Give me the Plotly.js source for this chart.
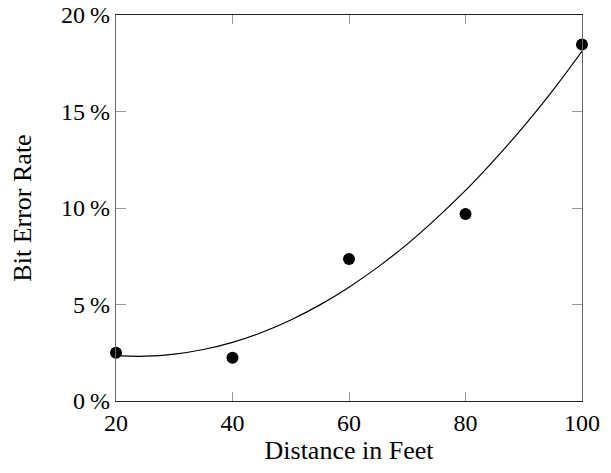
<!DOCTYPE html>
<html>
<head>
<meta charset="utf-8">
<script src="https://cdn.plot.ly/plotly-3.0.1.min.js"></script>
<style>html,body{margin:0;padding:0;background:#fff;}#chart{width:611px;height:473px;}</style>
</head>
<body>
<div id="chart"></div>
<script>
// Measured data points
var distances = [20, 40, 60, 80, 100];
var errorRates = [2.5, 2.24, 7.36, 9.69, 18.47];

// Fit curve
var curveX = [20, 25, 30, 35, 40, 45, 50, 55, 60, 65, 70, 75, 80, 85, 90, 95, 100];
var curveY = [2.35, 2.32, 2.43, 2.67, 3.04, 3.55, 4.20, 4.98, 5.90, 6.95, 8.13, 9.46, 10.91, 12.51, 14.23, 16.10, 18.12];

var xTicks = [20, 40, 60, 80, 100];
var yTicks = [0, 5, 10, 15, 20];
var yTickLabels = ['0\u2009%', '5\u2009%', '10\u2009%', '15\u2009%', '20\u2009%'];

var fontFam = '"Liberation Serif", "Times New Roman", serif';

var traces = [
  {
    x: curveX, y: curveY, type: 'scatter', mode: 'lines',
    line: {color: '#000', width: 1.2, shape: 'spline'},
    hoverinfo: 'skip', cliponaxis: false
  },
  {
    x: distances, y: errorRates, type: 'scatter', mode: 'markers',
    marker: {color: '#000', size: 12},
    cliponaxis: false
  }
];

var layout = {
  width: 611, height: 473,
  margin: {l: 116, r: 29, t: 15, b: 72},
  paper_bgcolor: '#fff', plot_bgcolor: '#fff',
  showlegend: false,
  font: {family: fontFam, size: 22, color: '#000'},
  xaxis: {
    range: [20, 100],
    tickvals: xTicks,
    ticktext: xTicks.map(String),
    ticks: 'inside', ticklen: 9, tickcolor: '#999', tickwidth: 1,
    showline: true, linecolor: '#222', linewidth: 1.3, mirror: 'ticks',
    showgrid: false, zeroline: false,
    tickfont: {family: fontFam, size: 24, color: '#000'},
    title: {text: 'Distance in Feet', font: {family: fontFam, size: 26, color: '#000'}, standoff: 2}
  },
  yaxis: {
    range: [0, 20],
    tickvals: yTicks,
    ticktext: yTickLabels,
    ticks: 'inside', ticklen: 10, tickcolor: '#999', tickwidth: 1,
    showline: true, linecolor: '#666', linewidth: 1.3, mirror: 'ticks',
    showgrid: false, zeroline: false,
    tickfont: {family: fontFam, size: 24, color: '#000'},
    title: {text: 'Bit Error Rate', font: {family: fontFam, size: 26, color: '#000'}, standoff: 22}
  }
};

Plotly.newPlot('chart', traces, layout, {displayModeBar: false, staticPlot: true});
</script>
</body>
</html>
